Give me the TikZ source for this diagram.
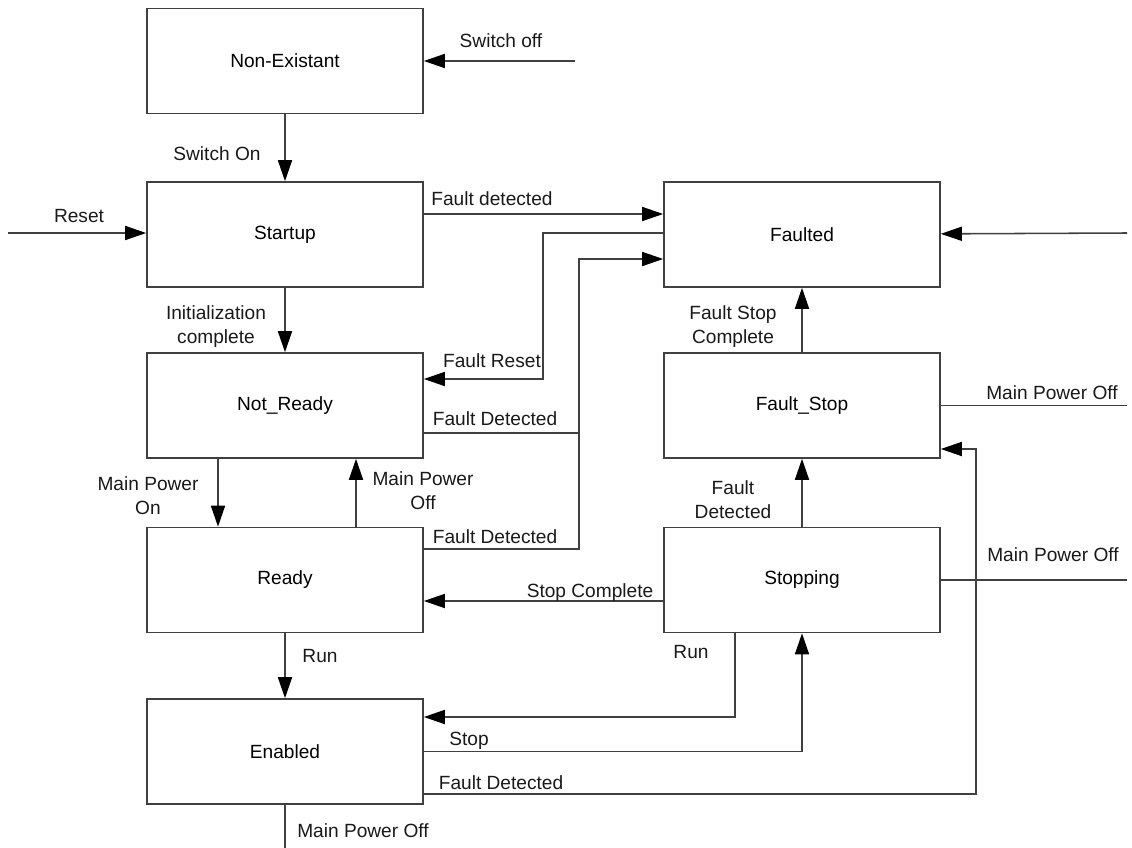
\documentclass[tikz,border=0pt]{standalone}
\usepackage{fontspec}
\setsansfont{Liberation Sans}
\usetikzlibrary{arrows.meta}

\begin{document}
\begin{tikzpicture}[
		x=0.025cm, y=-0.025cm,
		font=\sffamily,
		every node/.style={
				font=\sffamily\fontsize{13.6}{17}\selectfont,
			},
		state/.style={draw=black!75, line width=1.1pt, minimum width=6.9cm, minimum height=2.625cm, inner sep=0pt},
		wire/.style={draw=black!75, line width=1.1pt},
		arr/.style={wire, -{Triangle[length=15pt,width=10pt,color=black]}},
		lbl/.style={inner sep=0pt, align=center, text=black!90},
	]
	\useasboundingbox (0,0) rectangle (1132,848);
	% states
	\node[state] (nonex) at (285,61) {Non-Existant};
	\node[state] (startup) at (285,234.5) {Startup};
	\node[state] (notready) at (285,405.5) {Not\_Ready};
	\node[state] (ready) at (285,580) {Ready};
	\node[state] (enabled) at (285,751.5) {Enabled};
	\node[state] (faulted) at (802,234.5) {Faulted};
	\node[state] (faultstop) at (802,405.5) {Fault\_Stop};
	\node[state] (stopping) at (802,580) {Stopping};
	% free ends
	\coordinate (offin) at (575,61);
	\coordinate (resetin) at (8,233);
	\coordinate (faultin) at (1127,233);
	\coordinate (fsoff) at (1127,405.5);
	\coordinate (stoff) at (1127,580);
	\coordinate (enoff) at (285,848);
	% transitions
	\draw[arr] (offin) -- (nonex);
	\draw[arr] (nonex) -- (startup);
	\draw[arr] (resetin) -- (startup.west |- resetin);
	\draw[arr] (startup.east |- 0,214) -- (faulted.west |- 0,214);
	\draw[arr] (startup) -- (notready);
	\draw[arr] (faulted.west |- 0,233) -- (543,233) -- (543,379) -- (notready.east |- 0,379);
	\draw[wire] (notready.east |- 0,433) -- (579,433);
	\draw[arr] (ready.east |- 0,549) -- (579,549) -- (579,259) -- (faulted.west |- 0,259);
	\draw[arr] (notready.south -| 218,0) -- (ready.north -| 218,0);
	\draw[arr] (ready.north -| 356,0) -- (notready.south -| 356,0);
	\draw[arr] (stopping.west |- 0,601) -- (ready.east |- 0,601);
	\draw[arr] (ready) -- (enabled);
	\draw[arr] (stopping.south -| 735,0) |- (enabled.east |- 0,717);
	\draw[arr] (enabled.east) -| (stopping.south);
	\draw[arr] (enabled.east |- 0,794) -| (976,449) -- (faultstop.east |- 0,449);
	\draw[wire] (enabled.south) -- (enoff);
	\draw[wire] (stopping) -- (stoff);
	\draw[wire] (faultstop) -- (fsoff);
	\draw[arr] (stopping) -- (faultstop);
	\draw[arr] (faultstop) -- (faulted);
	\draw[arr] (faultin) -- (faulted);
	% labels
	\node[lbl] (lswoff) at (501,41) {Switch off};
	\node[lbl] (lswon) at (217,154) {Switch On};
	\node[lbl] (lreset) at (79,216) {Reset};
	\node[lbl] (lfdstart) at (492,199) {Fault detected};
	\node[lbl] (linit) at (216,327) {Initialization\\complete};
	\node[lbl] (lfreset) at (492,361) {Fault Reset};
	\node[lbl] (lfdnr) at (495,419) {Fault Detected};
	\node[lbl] (lmpon) at (148,496) {Main Power\\On};
	\node[lbl] (lmpoff) at (423,491) {Main Power\\Off};
	\node[lbl] (lfdrd) at (495,537) {Fault Detected};
	\node[lbl] (lstopc) at (590,593) {Stop Complete};
	\node[lbl] (lrun) at (320,656) {Run};
	\node[lbl] (lrunst) at (691,652) {Run};
	\node[lbl] (lstop) at (469,741) {Stop};
	\node[lbl] (lfden) at (501,783) {Fault Detected};
	\node[lbl] (lmpoen) at (363,831) {Main Power Off};
	\node[lbl] (lfdst) at (733,500) {Fault\\Detected};
	\node[lbl] (lfsc) at (733,327) {Fault Stop\\Complete};
	\node[lbl] (lmpofs) at (1052,393) {Main Power Off};
	\node[lbl] (lmpost) at (1053,555) {Main Power Off};
\end{tikzpicture}
\end{document}
